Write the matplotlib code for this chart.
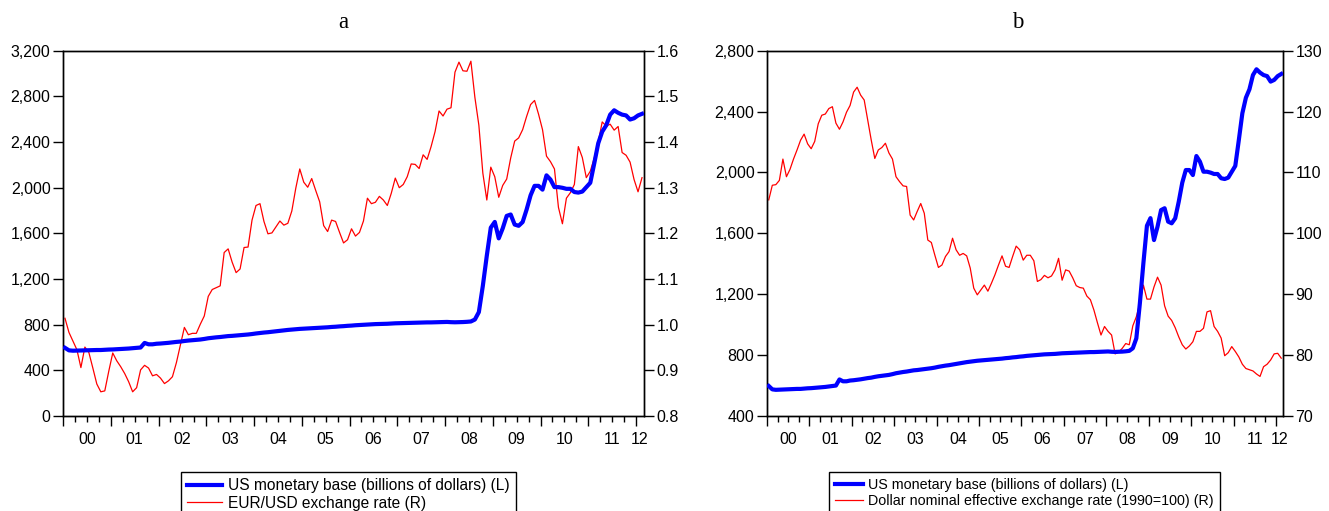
import numpy as np
import matplotlib
matplotlib.use("Agg")
import matplotlib.pyplot as plt
from matplotlib.ticker import FuncFormatter, FixedLocator
import matplotlib.transforms as mtransforms

plt.rcParams["font.family"] = ["Liberation Sans", "DejaVu Sans"]

# monthly observations, 2000M01 .. 2012M02
years = ["00", "01", "02", "03", "04", "05", "06", "07", "08", "09", "10", "11", "12"]

# US monetary base, billions of dollars
monetary_base = [
    597, 575, 572, 573, 574, 575, 576, 577, 578, 578, 580, 582,
    583, 585, 587, 589, 591, 594, 597, 600, 640, 628, 628, 633,
    635, 638, 641, 645, 649, 652, 657, 661, 664, 667, 670, 675,
    681, 685, 689, 692, 696, 700, 702, 705, 708, 711, 714, 718,
    723, 727, 731, 734, 738, 742, 746, 750, 754, 757, 760, 763,
    765, 767, 769, 771, 773, 775, 777, 780, 782, 785, 787, 790,
    792, 795, 797, 799, 801, 803, 805, 806, 807, 808, 810, 812,
    813, 814, 815, 816, 817, 818, 819, 820, 820, 821, 822, 823,
    824, 822, 821, 822, 823, 825, 828, 845, 910, 1140, 1405, 1650,
    1700, 1556, 1644, 1753, 1765, 1677, 1666, 1699, 1808, 1933, 2016, 2016,
    1983, 2108, 2071, 2005, 2005, 1999, 1990, 1990, 1962, 1957, 1966, 2005,
    2043, 2213, 2389, 2491, 2546, 2640, 2678, 2656, 2640, 2633, 2597, 2608,
    2633, 2647,
]

# EUR/USD exchange rate
eur_usd = [
    1.014, 0.983, 0.964, 0.945, 0.906, 0.951, 0.939, 0.905, 0.870, 0.853, 0.855, 0.898,
    0.938, 0.921, 0.908, 0.893, 0.875, 0.853, 0.862, 0.901, 0.911, 0.905, 0.888, 0.891,
    0.883, 0.871, 0.877, 0.886, 0.917, 0.956, 0.994, 0.978, 0.981, 0.981, 1.001, 1.019,
    1.062, 1.077, 1.081, 1.085, 1.158, 1.166, 1.137, 1.114, 1.122, 1.169, 1.170, 1.229,
    1.261, 1.265, 1.226, 1.199, 1.201, 1.214, 1.227, 1.218, 1.222, 1.249, 1.299, 1.341,
    1.312, 1.301, 1.320, 1.294, 1.269, 1.217, 1.204, 1.229, 1.226, 1.202, 1.179, 1.186,
    1.210, 1.194, 1.202, 1.227, 1.277, 1.265, 1.268, 1.281, 1.273, 1.261, 1.288, 1.321,
    1.300, 1.307, 1.324, 1.352, 1.351, 1.342, 1.372, 1.362, 1.390, 1.423, 1.468, 1.457,
    1.472, 1.475, 1.553, 1.575, 1.556, 1.555, 1.577, 1.498, 1.437, 1.332, 1.273, 1.345,
    1.324, 1.279, 1.305, 1.319, 1.365, 1.402, 1.409, 1.427, 1.456, 1.482, 1.491, 1.461,
    1.427, 1.369, 1.357, 1.341, 1.257, 1.221, 1.277, 1.289, 1.307, 1.390, 1.366, 1.322,
    1.336, 1.365, 1.400, 1.444, 1.435, 1.439, 1.426, 1.434, 1.377, 1.371, 1.356, 1.318,
    1.291, 1.322,
]

# Dollar nominal effective exchange rate (1990=100)
dollar_neer = [
    105.5, 107.9, 108.0, 108.7, 112.2, 109.3, 110.5, 112.2, 113.7, 115.3, 116.3, 114.7,
    113.9, 115.1, 118.0, 119.4, 119.6, 120.5, 120.8, 118.1, 117.1, 118.3, 119.9, 121.0,
    123.2, 124.0, 122.7, 121.9, 118.6, 115.3, 112.3, 113.7, 114.1, 114.8, 113.2, 112.2,
    109.3, 108.5, 107.8, 107.7, 103.0, 102.2, 103.6, 104.9, 103.3, 98.9, 98.5, 96.4,
    94.4, 94.8, 96.2, 97.0, 99.2, 97.3, 96.4, 96.7, 96.3, 94.3, 91.0, 89.9,
    90.7, 91.5, 90.5, 91.8, 93.2, 94.8, 96.3, 94.6, 94.4, 96.2, 97.9, 97.3,
    95.6, 96.4, 96.4, 95.5, 92.1, 92.4, 93.1, 92.7, 93.0, 94.0, 95.9, 92.3,
    94.0, 93.8, 92.7, 91.4, 91.1, 91.0, 89.7, 89.1, 87.4, 85.3, 83.3, 84.7,
    83.9, 83.3, 80.2, 80.5, 81.1, 81.9, 81.7, 84.8, 86.3, 88.5, 91.5, 89.2,
    89.2, 91.2, 92.8, 91.5, 88.1, 86.4, 85.7, 84.5, 83.0, 81.7, 81.0, 81.5,
    82.2, 83.9, 83.9, 84.4, 87.1, 87.3, 84.7, 83.9, 82.8, 79.9, 80.4, 81.4,
    80.6, 79.7, 78.5, 77.8, 77.6, 77.4, 76.9, 76.5, 78.1, 78.5, 79.2, 80.2,
    80.3, 79.5,
]

BLUE = "#0000ff"
RED = "#ff0000"
TICK_FS = 11.5


def style_time_axis(ax, n):
    ax.set_xlim(-0.5, n - 0.5)
    ax.xaxis.set_major_locator(FixedLocator(np.arange(-0.5, n, 12)))
    ax.xaxis.set_minor_locator(FixedLocator(np.arange(-0.5, n, 3)))
    ax.xaxis.set_major_formatter(FuncFormatter(lambda v, p: ""))
    ax.tick_params(axis="x", which="major", direction="out", length=7, width=1)
    ax.tick_params(axis="x", which="minor", direction="out", length=4, width=1)
    trans = mtransforms.blended_transform_factory(ax.transData, ax.transAxes)
    for k, lab in enumerate(years):
        lo = 12 * k - 0.5
        hi = min(12 * k + 11.5, n - 0.5)
        ax.text((lo + hi) / 2, -0.045, lab, transform=trans, ha="center", va="top",
                fontsize=TICK_FS)


def panel(rect, title, left_lim, left_ticks, right_lim, right_ticks, right_fmt,
          red_data, red_label, legend_x, title_x, leg_fs, leg_hl):
    ax = fig.add_axes(rect)
    n = len(monetary_base)
    x = np.arange(n)
    l1, = ax.plot(x, monetary_base, color=BLUE, lw=3.0, solid_joinstyle="round",
                  label="US monetary base (billions of dollars) (L)", zorder=3)
    ax.set_ylim(*left_lim)
    ax.set_yticks(left_ticks)
    ax.yaxis.set_major_formatter(FuncFormatter(lambda v, p: f"{v:,.0f}"))
    ax.tick_params(axis="y", direction="out", length=7, width=1, labelsize=TICK_FS, pad=2)
    style_time_axis(ax, n)

    ax2 = ax.twinx()
    l2, = ax2.plot(x, red_data, color=RED, lw=0.9, label=red_label, zorder=2)
    ax2.set_ylim(*right_lim)
    ax2.set_yticks(right_ticks)
    ax2.yaxis.set_major_formatter(FuncFormatter(right_fmt))
    ax2.tick_params(axis="y", direction="out", length=7, width=1, labelsize=TICK_FS, pad=2)
    ax.set_zorder(ax2.get_zorder() + 1)
    ax.patch.set_visible(False)

    for a in (ax, ax2):
        for s in a.spines.values():
            s.set_linewidth(1.0)

    fig.text(title_x, 1 - 22 / 511, title, ha="center", va="center",
             fontsize=16.5, family="Liberation Serif")

    fig.legend(handles=[l1, l2], loc="upper left",
               bbox_to_anchor=(legend_x, 1 - 472 / 511), borderaxespad=0,
               frameon=True, fancybox=False, edgecolor="black", fontsize=leg_fs,
               handlelength=leg_hl, handletextpad=0.35, borderpad=0.4,
               labelspacing=0.15, framealpha=1)
    return ax, ax2


fig = plt.figure(figsize=(13.29, 5.11), dpi=100)
W, H = 1329, 511
bottom = (H - 416) / H
height = (416 - 50.7) / H

panel([63 / W, bottom, 581 / W, height], "a",
      (0, 3200), np.arange(0, 3201, 400),
      (0.8, 1.6), np.arange(0.8, 1.61, 0.1), lambda v, p: f"{v:.1f}",
      eur_usd, "EUR/USD exchange rate (R)", 181 / W, 343 / W, 11.2, 2.25)

panel([767 / W, bottom, 516 / W, height], "b",
      (400, 2800), np.arange(400, 2801, 400),
      (70, 130), np.arange(70, 131, 10), lambda v, p: f"{v:.0f}",
      dollar_neer, "Dollar nominal effective exchange rate (1990=100) (R)", 829 / W, 1018 / W,
      10.3, 2.0)

fig.savefig("out.png", dpi=100)
